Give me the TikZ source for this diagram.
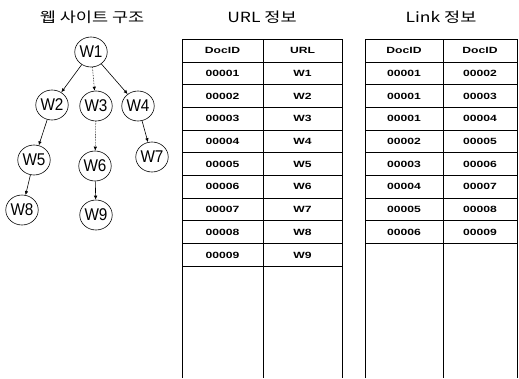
\documentclass[tikz,border=0pt]{standalone}
\usepackage{fontspec}
\setmainfont{Liberation Sans}
\newfontfamily\krfont[FakeStretch=1.25]{Noto Sans CJK KR}
\newfontfamily\tabfont[FakeStretch=1.35]{Liberation Sans Bold}
\newfontfamily\pagefont[FakeStretch=0.9]{Liberation Sans}
\usetikzlibrary{arrows.meta, shapes.geometric}

\begin{document}
\begin{tikzpicture}[x = 1pt, y = -1pt,
    page/.style = {draw, ellipse, inner sep = 0pt, minimum width = 28pt, minimum height = 30pt, line width = 0.6pt, font = \pagefont\fontsize{17}{17}\selectfont},
    link/.style = {-{Latex[length = 4pt, width = 3.5pt]}, line width = 0.6pt},
    heading/.style = {font = \krfont\fontsize{14}{14}\selectfont},
    cell/.style = {font = \tabfont\fontsize{9}{9}\selectfont},
    tabline/.style = {line width = 0.9pt}]
      \useasboundingbox (0, 0) rectangle (519, 378);
      \node [heading] (t-site) at (92, 17) {웹 사이트 구조};
      \node [heading] (t-url) at (262, 17) {URL 정보};
      \node [heading] (t-link) at (441, 17) {Link 정보};
      \node [page] (w1) at (91, 52) {W1};
      \node [page] (w2) at (52, 105) {W2};
      \node [page] (w3) at (96, 106) {W3};
      \node [page] (w4) at (138, 106) {W4};
      \node [page] (w5) at (34, 160) {W5};
      \node [page] (w6) at (95, 166) {W6};
      \node [page] (w7) at (152, 157) {W7};
      \node [page] (w8) at (22, 210) {W8};
      \node [page] (w9) at (96, 215) {W9};
      \draw [link] (w1) -- (w2);
      \draw [link, densely dotted] (w1) -- (w3);
      \draw [link] (w1) -- (w4);
      \draw [link] (w2) -- (w5);
      \draw [link, densely dotted] (w3) -- (w6);
      \draw [link] (w4) -- (w7);
      \draw [link] (w5) -- (w8);
      \draw [link] (w6) -- (w9);
      \draw [tabline] (182, 378) -- (182, 39) -- (342, 39) -- (342, 378);
      \draw [tabline] (263, 39) -- (263, 378);
      \draw [tabline] (365, 378) -- (365, 39) -- (517, 39) -- (517, 378);
      \draw [tabline] (443, 39) -- (443, 378);
      \foreach \k in {0, ..., 9}
        \draw [tabline] (182, 62 + 22.7*\k) -- (342, 62 + 22.7*\k);
      \foreach \k in {0, ..., 8}
        \draw [tabline] (365, 62 + 22.7*\k) -- (517, 62 + 22.7*\k);
      \node [cell] (u-h1) at (222.5, 50.5) {DocID};
      \node [cell] (u-h2) at (302.5, 50.5) {URL};
      \node [cell] (l-h1) at (404, 50.5) {DocID};
      \node [cell] (l-h2) at (480, 50.5) {DocID};
      \foreach \k in {1, ..., 9} {
        \node [cell] (u-d\k) at (222.5, 50.65 + 22.7*\k) {0000\k};
        \node [cell] (u-w\k) at (302.5, 50.65 + 22.7*\k) {W\k};
      }
      \foreach \a/\b [count = \k] in {1/2, 1/3, 1/4, 2/5, 3/6, 4/7, 5/8, 6/9} {
        \node [cell] (l-a\k) at (404, 50.65 + 22.7*\k) {0000\a};
        \node [cell] (l-b\k) at (480, 50.65 + 22.7*\k) {0000\b};
      }
    \end{tikzpicture}
\end{document}
